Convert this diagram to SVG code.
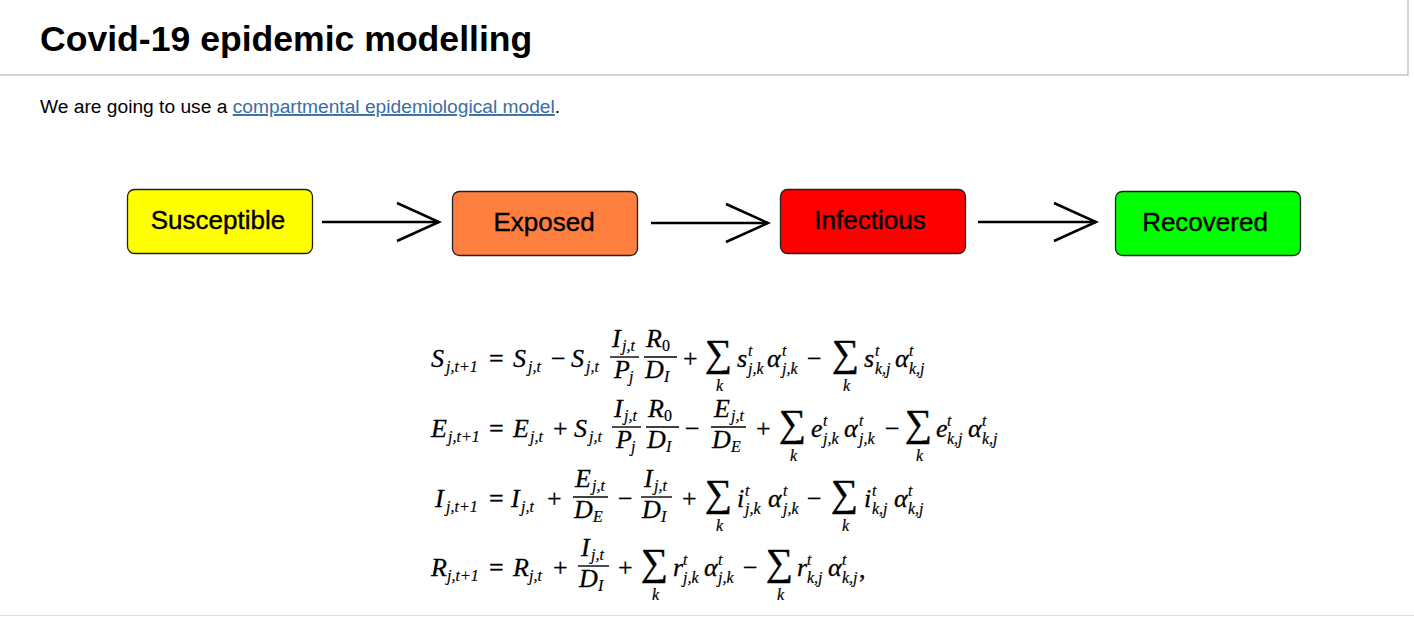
<svg xmlns="http://www.w3.org/2000/svg" width="1414" height="644" viewBox="0 0 1414 644">
<style>
.m{font-family:"Liberation Serif","Times New Roman",serif;font-style:italic;font-size:26px;fill:#000;stroke:#000;stroke-width:0.3}
.u{font-family:"Liberation Serif","Times New Roman",serif;font-size:26px;fill:#000;stroke:#000;stroke-width:0.3}
.s{font-family:"Liberation Serif","Times New Roman",serif;font-style:italic;font-size:16px;fill:#000;stroke:#000;stroke-width:0.2}
.su{font-family:"Liberation Serif","Times New Roman",serif;font-size:16px;fill:#000;stroke:#000;stroke-width:0.2}
.sig{font-family:"Liberation Serif","DejaVu Serif",serif;font-size:38px;fill:#000;stroke:#000;stroke-width:0.5}
.bar{stroke:#000;stroke-width:1.4}
.node rect{stroke:#222;stroke-width:1.3}
.node text{font-family:"Liberation Sans",Arial,sans-serif;font-size:26px;fill:#000;stroke:#000;stroke-width:0.4;text-anchor:middle}
.conn line,.conn polyline{stroke:#000;stroke-width:2.5;fill:none}
</style>
<rect width="1414" height="644" fill="#fff"/>
<rect x="-2" y="-2" width="1410" height="77" fill="none" stroke="#aaa" stroke-width="1"/>
<text x="40" y="51" font-family="Liberation Sans,Arial,sans-serif" font-weight="bold" font-size="35.6">Covid-19 epidemic modelling</text>
<text x="40" y="113" font-family="Liberation Sans,Arial,sans-serif" font-size="19.2">We are going to use a <tspan fill="#3a6ea5" text-decoration="underline">compartmental epidemiological model</tspan>.</text>
<line x1="0" y1="615.5" x2="1414" y2="615.5" stroke="#ddd"/>

<g id="susceptible" class="node"><rect x="127.5" y="189.5" width="185" height="64" rx="7" fill="#ffff00"/><text x="218" y="229">Susceptible</text></g>
<g id="exposed" class="node"><rect x="452.5" y="191.5" width="185" height="64" rx="7" fill="#ff7f3f"/><text x="544" y="231">Exposed</text></g>
<g id="infectious" class="node"><rect x="780.5" y="189.5" width="185" height="64" rx="7" fill="#ff0000"/><text x="870" y="229">Infectious</text></g>
<g id="recovered" class="node"><rect x="1115.5" y="191.5" width="185" height="64" rx="7" fill="#00ff00"/><text x="1205" y="231">Recovered</text></g>

<g id="connectors" class="conn">
<line x1="322" y1="222" x2="439" y2="222"/><polyline points="397,203 439,222 397,241"/>
<line x1="651" y1="223" x2="768" y2="223"/><polyline points="726,204 768,223 726,242"/>
<line x1="978" y1="222" x2="1096" y2="222"/><polyline points="1054,203 1096,222 1054,241"/>
</g>

<g id="equations">
<!-- Row 1 -->
<text class="m" x="431" y="367">S</text><text class="s" x="446" y="372">j,t+1</text>
<text class="u" x="489" y="367">=</text>
<text class="m" x="513" y="367">S</text><text class="s" x="528" y="372">j,t</text>
<text class="u" x="551" y="367">−</text>
<text class="m" x="571" y="367">S</text><text class="s" x="586" y="372">j,t</text>
<text class="m" x="612" y="347">I</text><text class="s" x="622" y="351">j,t</text>
<line class="bar" x1="610" y1="357" x2="639" y2="357"/>
<text class="m" x="614" y="378">P</text><text class="s" x="629" y="382">j</text>
<text class="m" x="646" y="347">R</text><text class="su" x="662" y="351">0</text>
<line class="bar" x1="644" y1="357" x2="677" y2="357"/>
<text class="m" x="645" y="378">D</text><text class="s" x="664" y="382">I</text>
<text class="u" x="683" y="367">+</text>
<text class="sig" x="705" y="366">∑</text><text class="s" x="716" y="391">k</text>
<text class="m" x="737" y="367">s</text><text class="s" x="748" y="356">t</text><text class="s" x="748" y="374">j,k</text>
<text class="m" x="767" y="367">α</text><text class="s" x="782" y="356">t</text><text class="s" x="782" y="374">j,k</text>
<text class="u" x="807" y="367">−</text>
<text class="sig" x="832" y="366">∑</text><text class="s" x="843" y="391">k</text>
<text class="m" x="864" y="367">s</text><text class="s" x="875" y="356">t</text><text class="s" x="875" y="374">k,j</text>
<text class="m" x="895" y="367">α</text><text class="s" x="909" y="356">t</text><text class="s" x="909" y="374">k,j</text>

<!-- Row 2 -->
<text class="m" x="431" y="437">E</text><text class="s" x="448" y="442">j,t+1</text>
<text class="u" x="489" y="437">=</text>
<text class="m" x="513" y="437">E</text><text class="s" x="530" y="442">j,t</text>
<text class="u" x="553" y="437">+</text>
<text class="m" x="574" y="437">S</text><text class="s" x="589" y="442">j,t</text>
<text class="m" x="614" y="417">I</text><text class="s" x="624" y="421">j,t</text>
<line class="bar" x1="612" y1="427" x2="641" y2="427"/>
<text class="m" x="616" y="448">P</text><text class="s" x="631" y="452">j</text>
<text class="m" x="648" y="417">R</text><text class="su" x="664" y="421">0</text>
<line class="bar" x1="646" y1="427" x2="679" y2="427"/>
<text class="m" x="647" y="448">D</text><text class="s" x="666" y="452">I</text>
<text class="u" x="685" y="437">−</text>
<text class="m" x="714" y="417">E</text><text class="s" x="731" y="421">j,t</text>
<line class="bar" x1="711" y1="427" x2="746" y2="427"/>
<text class="m" x="712" y="448">D</text><text class="s" x="731" y="452">E</text>
<text class="u" x="756" y="437">+</text>
<text class="sig" x="779" y="436">∑</text><text class="s" x="790" y="461">k</text>
<text class="m" x="811" y="437">e</text><text class="s" x="823" y="426">t</text><text class="s" x="823" y="444">j,k</text>
<text class="m" x="844" y="437">α</text><text class="s" x="859" y="426">t</text><text class="s" x="859" y="444">j,k</text>
<text class="u" x="885" y="437">−</text>
<text class="sig" x="905" y="436">∑</text><text class="s" x="916" y="461">k</text>
<text class="m" x="936" y="437">e</text><text class="s" x="947" y="426">t</text><text class="s" x="947" y="444">k,j</text>
<text class="m" x="968" y="437">α</text><text class="s" x="982" y="426">t</text><text class="s" x="982" y="444">k,j</text>

<!-- Row 3 -->
<text class="m" x="435" y="507">I</text><text class="s" x="446" y="512">j,t+1</text>
<text class="u" x="489" y="507">=</text>
<text class="m" x="511" y="507">I</text><text class="s" x="521" y="512">j,t</text>
<text class="u" x="547" y="507">+</text>
<text class="m" x="575" y="487">E</text><text class="s" x="592" y="491">j,t</text>
<line class="bar" x1="573" y1="497" x2="608" y2="497"/>
<text class="m" x="574" y="518">D</text><text class="s" x="593" y="522">E</text>
<text class="u" x="618" y="507">−</text>
<text class="m" x="644" y="487">I</text><text class="s" x="654" y="491">j,t</text>
<line class="bar" x1="641" y1="497" x2="672" y2="497"/>
<text class="m" x="642" y="518">D</text><text class="s" x="661" y="522">I</text>
<text class="u" x="682" y="507">+</text>
<text class="sig" x="705" y="506">∑</text><text class="s" x="716" y="531">k</text>
<text class="m" x="737" y="507">i</text><text class="s" x="745" y="496">t</text><text class="s" x="745" y="514">j,k</text>
<text class="m" x="768" y="507">α</text><text class="s" x="783" y="496">t</text><text class="s" x="783" y="514">j,k</text>
<text class="u" x="807" y="507">−</text>
<text class="sig" x="831" y="506">∑</text><text class="s" x="842" y="531">k</text>
<text class="m" x="864" y="507">i</text><text class="s" x="872" y="496">t</text><text class="s" x="872" y="514">k,j</text>
<text class="m" x="894" y="507">α</text><text class="s" x="908" y="496">t</text><text class="s" x="908" y="514">k,j</text>

<!-- Row 4 -->
<text class="m" x="431" y="576">R</text><text class="s" x="447" y="581">j,t+1</text>
<text class="u" x="489" y="576">=</text>
<text class="m" x="513" y="576">R</text><text class="s" x="529" y="581">j,t</text>
<text class="u" x="553" y="576">+</text>
<text class="m" x="581" y="556">I</text><text class="s" x="591" y="560">j,t</text>
<line class="bar" x1="578" y1="566" x2="609" y2="566"/>
<text class="m" x="579" y="587">D</text><text class="s" x="598" y="591">I</text>
<text class="u" x="618" y="576">+</text>
<text class="sig" x="641" y="575">∑</text><text class="s" x="652" y="600">k</text>
<text class="m" x="673" y="576">r</text><text class="s" x="683" y="565">t</text><text class="s" x="683" y="583">j,k</text>
<text class="m" x="704" y="576">α</text><text class="s" x="718" y="565">t</text><text class="s" x="718" y="583">j,k</text>
<text class="u" x="743" y="576">−</text>
<text class="sig" x="766" y="575">∑</text><text class="s" x="777" y="600">k</text>
<text class="m" x="797" y="576">r</text><text class="s" x="807" y="565">t</text><text class="s" x="807" y="583">k,j</text>
<text class="m" x="828" y="576">α</text><text class="s" x="842" y="565">t</text><text class="s" x="842" y="583">k,j</text><text class="u" x="859" y="578">,</text>
</g>
</svg>
